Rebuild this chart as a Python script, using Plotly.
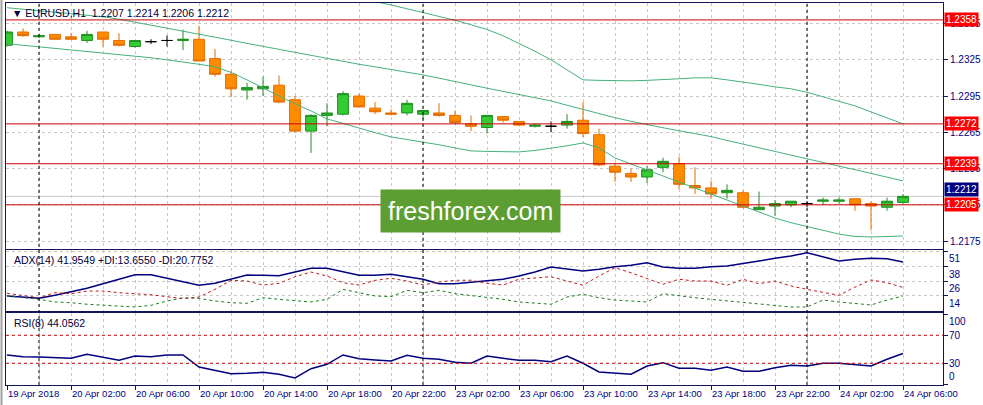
import plotly.graph_objects as go

# ---------------- data ----------------
times = ([f"2018.04.19 {h:02d}:00" for h in (22, 23)]
         + [f"2018.04.20 {h:02d}:00" for h in range(24)]
         + [f"2018.04.23 {h:02d}:00" for h in range(24)]
         + [f"2018.04.24 {h:02d}:00" for h in range(7)])

open_ = [1.2337, 1.2348, 1.2344, 1.2346, 1.2344, 1.2341, 1.2348, 1.2341, 1.2336, 1.2340,
         1.2341, 1.2341, 1.2342, 1.2326, 1.2313, 1.2300, 1.2301, 1.2304, 1.2292, 1.2266,
         1.2279, 1.2280, 1.2295, 1.2285, 1.2281, 1.2281, 1.2280, 1.2281, 1.2279, 1.2272,
         1.2269, 1.2278, 1.2274, 1.2270, 1.2270, 1.2271, 1.2275, 1.2263, 1.2237, 1.2231,
         1.2228, 1.2236, 1.2239, 1.2221, 1.2219, 1.2215, 1.2215, 1.2201, 1.2204, 1.2205,
         1.2206, 1.2208, 1.2208, 1.2210, 1.2206, 1.2203, 1.2207]
high = [1.2349, 1.2351, 1.2346, 1.2346, 1.2347, 1.2349, 1.2348, 1.2347, 1.2341, 1.2342,
        1.2345, 1.2350, 1.2353, 1.2334, 1.2316, 1.2306, 1.2311, 1.2312, 1.2295, 1.2280,
        1.2289, 1.2299, 1.2297, 1.2290, 1.2284, 1.2292, 1.2283, 1.2289, 1.2283, 1.2279,
        1.2279, 1.2278, 1.2274, 1.2272, 1.2274, 1.2280, 1.2290, 1.2268, 1.2240, 1.2235,
        1.2237, 1.2244, 1.2245, 1.2236, 1.2225, 1.2222, 1.2217, 1.2216, 1.2209, 1.2208,
        1.2208, 1.2211, 1.2211, 1.2210, 1.2208, 1.2211, 1.2214]
low = [1.2336, 1.2344, 1.2343, 1.2342, 1.2342, 1.2339, 1.2336, 1.2336, 1.2335, 1.2338,
       1.2336, 1.2333, 1.2324, 1.2311, 1.2294, 1.2292, 1.2295, 1.2289, 1.2265, 1.2248,
       1.2270, 1.2279, 1.2286, 1.2280, 1.2279, 1.2279, 1.2276, 1.2278, 1.2272, 1.2266,
       1.2264, 1.2273, 1.2270, 1.2269, 1.2265, 1.2268, 1.2261, 1.2237, 1.2224, 1.2224,
       1.2223, 1.2232, 1.2218, 1.2214, 1.2210, 1.2210, 1.2202, 1.2201, 1.2196, 1.2203,
       1.2203, 1.2205, 1.2206, 1.2200, 1.2184, 1.2200, 1.2206]
close = [1.2348, 1.2345, 1.2345, 1.2342, 1.2342, 1.2346, 1.2342, 1.2337, 1.2341, 1.2340,
         1.2341, 1.2342, 1.2324, 1.2313, 1.2301, 1.2302, 1.2303, 1.2290, 1.2266, 1.2279,
         1.2281, 1.2297, 1.2286, 1.2282, 1.2280, 1.2289, 1.2283, 1.2279, 1.2273, 1.2270,
         1.2279, 1.2275, 1.2271, 1.2271, 1.2270, 1.2274, 1.2264, 1.2238, 1.2232, 1.2228,
         1.2234, 1.2241, 1.2222, 1.2219, 1.2214, 1.2217, 1.2203, 1.2203, 1.2206, 1.2208,
         1.2206, 1.2209, 1.2209, 1.2205, 1.2204, 1.2208, 1.2212]

bb_upper = [1.23979, 1.23967, 1.23954, 1.23942, 1.23929, 1.23917, 1.23905, 1.23876, 1.23847, 1.23809,
            1.23772, 1.23747, 1.23739, 1.23739, 1.23747, 1.23755, 1.23764, 1.23764, 1.23760, 1.23747,
            1.23747, 1.23743, 1.23739, 1.23731, 1.23704, 1.23673, 1.23642, 1.23610, 1.23577, 1.23540,
            1.23501, 1.23449, 1.23385, 1.23321, 1.23250, 1.23170, 1.23084, 1.23080, 1.23076, 1.23076,
            1.23080, 1.23084, 1.23093, 1.23101, 1.23101, 1.23084, 1.23068, 1.23047, 1.23026, 1.23010,
            1.22981, 1.22943, 1.22910, 1.22869, 1.22819, 1.22769, 1.22720]
bb_middle = [1.23681, 1.23668, 1.23656, 1.23644, 1.23631, 1.23619, 1.23606, 1.23586, 1.23562, 1.23538,
             1.23512, 1.23487, 1.23462, 1.23436, 1.23412, 1.23386, 1.23361, 1.23336, 1.23310, 1.23286,
             1.23261, 1.23233, 1.23213, 1.23192, 1.23171, 1.23151, 1.23125, 1.23098, 1.23069, 1.23042,
             1.23015, 1.22989, 1.22963, 1.22938, 1.22910, 1.22874, 1.22838, 1.22803, 1.22771, 1.22741,
             1.22712, 1.22688, 1.22663, 1.22639, 1.22615, 1.22583, 1.22552, 1.22521, 1.22489, 1.22458,
             1.22430, 1.22400, 1.22370, 1.22341, 1.22309, 1.22278, 1.22248]
bb_lower = [1.23383, 1.23370, 1.23358, 1.23345, 1.23333, 1.23320, 1.23308, 1.23296, 1.23283, 1.23267,
            1.23250, 1.23233, 1.23213, 1.23192, 1.23146, 1.23084, 1.23018, 1.22952, 1.22885, 1.22827,
            1.22761, 1.22724, 1.22684, 1.22647, 1.22612, 1.22591, 1.22571, 1.22547, 1.22521, 1.22496,
            1.22492, 1.22488, 1.22488, 1.22500, 1.22517, 1.22538, 1.22562, 1.22521, 1.22438, 1.22388,
            1.22339, 1.22285, 1.22235, 1.22184, 1.22136, 1.22088, 1.22040, 1.21991, 1.21941, 1.21902,
            1.21871, 1.21837, 1.21808, 1.21788, 1.21784, 1.21788, 1.21792]

adx = [13.7, 12.8, 11.8, 14.2, 17.0, 20.1, 23.9, 27.6, 31.4, 31.4,
       28.4, 25.3, 22.6, 24.2, 27.6, 31.1, 30.9, 30.5, 33.6, 36.7,
       36.7, 33.9, 30.9, 30.9, 31.7, 29.7, 27.6, 23.9, 23.9, 25.1,
       26.1, 27.6, 30.3, 33.6, 37.8, 36.4, 34.5, 35.9, 38.0, 39.2,
       41.4, 37.8, 36.7, 36.7, 38.0, 38.6, 40.5, 42.8, 45.0, 46.9,
       49.7, 46.4, 42.8, 44.2, 45.0, 44.7, 41.9549]
plus_di = [13.7, 12.2, 10.9, 8.7, 8.1, 6.8, 5.9, 4.8, 4.5, 5.9,
           9.5, 12.2, 11.7, 9.5, 8.1, 7.6, 12.2, 10.9, 9.5, 8.7,
           10.9, 19.2, 16.4, 13.7, 13.1, 18.4, 16.4, 18.4, 15.6, 14.1,
           12.2, 10.9, 8.7, 7.6, 6.8, 12.8, 15.1, 12.2, 10.3, 9.5,
           8.7, 15.6, 13.7, 12.2, 10.9, 9.5, 8.1, 7.3, 5.9, 4.5,
           4.5, 10.3, 8.7, 7.6, 6.2, 10.3, 13.6550]
minus_di = [15.9, 14.2, 12.2, 16.4, 15.6, 17.8, 17.8, 16.4, 15.6, 14.7,
            13.1, 11.4, 12.8, 19.2, 26.7, 26.1, 22.8, 24.2, 29.7, 33.6,
            30.3, 24.7, 22.8, 26.7, 28.4, 26.1, 22.8, 25.3, 26.7, 26.8,
            24.2, 22.8, 27.6, 28.9, 29.7, 26.1, 22.6, 30.3, 37.2, 33.0,
            28.0, 23.4, 27.6, 26.1, 26.1, 22.6, 27.6, 23.9, 26.1, 22.0,
            19.2, 17.0, 14.2, 21.1, 27.0, 24.7, 20.7752]
rsi = [41.9, 39.4, 39.0, 37.6, 37.1, 42.9, 39.0, 34.3, 40.4, 39.4,
       41.9, 41.9, 24.7, 20.0, 15.1, 15.7, 17.1, 14.3, 9.0, 22.3,
       28.6, 41.9, 36.6, 34.7, 33.3, 41.4, 37.1, 35.7, 31.4, 30.0,
       40.4, 37.1, 34.3, 34.3, 32.3, 40.4, 30.0, 17.6, 15.7, 14.3,
       26.1, 30.9, 22.9, 22.9, 20.0, 24.7, 18.6, 18.6, 23.7, 27.1,
       26.1, 30.0, 30.0, 27.6, 26.1, 35.7, 44.0562]

levels = [1.2358, 1.2272, 1.2239, 1.2205]
price_ticks = [1.2355, 1.2325, 1.2295, 1.2265, 1.2235, 1.2205, 1.2175]
adx_ticks = [51, 38, 26, 14]
rsi_levels = [70, 30]
xtick_times = ["2018.04.19 22:00", "2018.04.20 02:00", "2018.04.20 06:00", "2018.04.20 10:00",
               "2018.04.20 14:00", "2018.04.20 18:00", "2018.04.20 22:00", "2018.04.23 02:00",
               "2018.04.23 06:00", "2018.04.23 10:00", "2018.04.23 14:00", "2018.04.23 18:00",
               "2018.04.23 22:00", "2018.04.24 02:00", "2018.04.24 06:00"]
xtick_text = ["19 Apr 2018", "20 Apr 02:00", "20 Apr 06:00", "20 Apr 10:00", "20 Apr 14:00",
              "20 Apr 18:00", "20 Apr 22:00", "23 Apr 02:00", "23 Apr 06:00", "23 Apr 10:00",
              "23 Apr 14:00", "23 Apr 18:00", "23 Apr 22:00", "24 Apr 02:00", "24 Apr 06:00"]
watermark = "freshforex.com"

# ---------------- styling ----------------
NAVY = "#000080"
FRAME = "#14145a"
GRID = "#c8c8c8"
RED = "#cc0000"
BB = "#45b27c"
FONT = "Liberation Sans"

idx = list(range(len(times)))
xtick_vals = [times.index(t) for t in xtick_times]
minor_vals = [i for i in idx if i % 2 == 0 and i not in xtick_vals]
day_starts = [i for i, t in enumerate(times) if t.endswith("00:00")]

bull = [i for i in idx if close[i] > open_[i]]
bear = [i for i in idx if close[i] < open_[i]]
doji = [i for i in idx if close[i] == open_[i]]


def sub(arr, ids):
    return [arr[i] for i in ids]


fig = go.Figure()

# Bollinger bands
for arr in (bb_upper, bb_middle, bb_lower):
    fig.add_trace(go.Scatter(x=idx, y=arr, mode="lines", line=dict(color=BB, width=1),
                             hoverinfo="skip", xaxis="x", yaxis="y"))

for ids, lc, fc in ((bull, "#1f8f1f", "#33cc33"), (bear, "#e46c00", "#ff8c00"), (doji, "#000000", "#000000")):
    fig.add_trace(go.Candlestick(
        x=ids, open=sub(open_, ids), high=sub(high, ids), low=sub(low, ids), close=sub(close, ids),
        increasing=dict(line=dict(color=lc, width=1), fillcolor=fc),
        decreasing=dict(line=dict(color=lc, width=1), fillcolor=fc),
        whiskerwidth=0, hoverinfo="skip", xaxis="x", yaxis="y"))

# ADX
fig.add_trace(go.Scatter(x=idx, y=adx, mode="lines", line=dict(color=NAVY, width=1.5),
                         xaxis="x2", yaxis="y2", hoverinfo="skip"))
fig.add_trace(go.Scatter(x=idx, y=plus_di, mode="lines", line=dict(color="#1e7d1e", width=1, dash="3px,3px"),
                         xaxis="x2", yaxis="y2", hoverinfo="skip"))
fig.add_trace(go.Scatter(x=idx, y=minus_di, mode="lines", line=dict(color="#c01818", width=1, dash="3px,3px"),
                         xaxis="x2", yaxis="y2", hoverinfo="skip"))
# RSI
fig.add_trace(go.Scatter(x=idx, y=rsi, mode="lines", line=dict(color=NAVY, width=1.5),
                         xaxis="x3", yaxis="y3", hoverinfo="skip"))

shapes = []
for lv in levels:
    shapes.append(dict(type="line", xref="paper", x0=0, x1=1, yref="y", y0=lv, y1=lv,
                       line=dict(color=RED, width=1)))
shapes.append(dict(type="line", xref="paper", x0=0, x1=1, yref="y", y0=close[-1], y1=close[-1],
                   line=dict(color="#c8c8c8", width=1), layer="below"))
for lv in rsi_levels:
    shapes.append(dict(type="line", xref="paper", x0=0, x1=1, yref="y3", y0=lv, y1=lv,
                       line=dict(color=RED, width=1, dash="3px,3px")))
for d in day_starts:
    shapes.append(dict(type="line", xref="x", x0=d, x1=d, yref="paper", y0=0, y1=1,
                       line=dict(color="#000000", width=1, dash="3px,3px")))
# window border on the far left
shapes.append(dict(type="line", xref="paper", x0=-0.0048, x1=-0.0048, yref="paper", y0=-0.06, y1=1.01,
                   line=dict(color="#a0a0a0", width=2)))

ann = []
for lv in levels:
    ann.append(dict(xref="paper", x=1, xanchor="left", xshift=1, yref="y", y=lv, yanchor="middle",
                    text=f"{lv:.4f}", showarrow=False, bgcolor="#ff0000",
                    font=dict(color="white", size=10, family=FONT), borderpad=1))
ann.append(dict(xref="paper", x=1, xanchor="left", xshift=1, yref="y", y=close[-1], yanchor="bottom",
                yshift=-1, text=f"{close[-1]:.4f}", showarrow=False, bgcolor="#000080",
                font=dict(color="white", size=10, family=FONT), borderpad=1))
for t in adx_ticks:
    ann.append(dict(xref="paper", x=1, xanchor="left", xshift=4, yref="y2", y=t, yanchor="top",
                    text=str(t), showarrow=False, font=dict(color=NAVY, size=10, family=FONT)))
for t, anc in ((100, "top"), (70, "middle"), (30, "middle"), (0, "bottom")):
    ann.append(dict(xref="paper", x=1, xanchor="left", xshift=4, yref="y3", y=t, yanchor=anc,
                    text=str(t), showarrow=False, font=dict(color=NAVY, size=10, family=FONT)))
ann.append(dict(xref="paper", x=0.004, xanchor="left", yref="paper", y=1, yanchor="top", yshift=-2,
                text=f"\u25bc EURUSD,H1  {open_[-1]:.4f} {high[-1]:.4f} {low[-1]:.4f} {close[-1]:.4f}",
                showarrow=False, font=dict(color="#000040", size=10.5, family=FONT)))
ann.append(dict(xref="paper", x=0.006, xanchor="left", yref="y2 domain", y=1, yanchor="top", yshift=-2,
                text=f"ADX(14) {adx[-1]:.4f} +DI:{plus_di[-1]:.4f} -DI:{minus_di[-1]:.4f}",
                showarrow=False, font=dict(color="#000040", size=10.5, family=FONT)))
ann.append(dict(xref="paper", x=0.006, xanchor="left", yref="y3 domain", y=1, yanchor="top", yshift=-2,
                text=f"RSI(8) {rsi[-1]:.4f}",
                showarrow=False, font=dict(color="#000040", size=10.5, family=FONT)))
# site watermark
ann.append(dict(xref="paper", x=0.4952, xanchor="center", yref="paper", y=0.4555, yanchor="middle",
                text=watermark, showarrow=False, bgcolor="#5c9e31", borderpad=7,
                font=dict(color="white", size=25, family=FONT)))

xcommon = dict(range=[-0.0625, 58.5], showline=True, mirror=True, linecolor=FRAME, linewidth=1,
               tickvals=xtick_vals, ticktext=xtick_text, showgrid=True, gridcolor=GRID,
               griddash="3px,3px", gridwidth=1, zeroline=False, tickangle=0,
               minor=dict(tickvals=minor_vals, showgrid=True, gridcolor=GRID, griddash="3px,3px", ticks=""))
ycommon = dict(side="right", showline=True, mirror=True, linecolor=FRAME, linewidth=1,
               ticks="outside", ticklen=4, tickcolor=FRAME, zeroline=False,
               tickfont=dict(color=NAVY, size=10, family=FONT))

fig.update_layout(
    width=983, height=405,
    margin=dict(l=6, r=40, t=3, b=20, pad=0, autoexpand=False),
    paper_bgcolor="white", plot_bgcolor="white",
    showlegend=False, boxgap=0.18, boxgroupgap=0.18,
    font=dict(family=FONT, size=10, color=NAVY),
    xaxis=dict(xcommon, anchor="y", showticklabels=False, ticks="", rangeslider=dict(visible=False)),
    xaxis2=dict(xcommon, anchor="y2", matches="x", showticklabels=False, ticks=""),
    xaxis3=dict(xcommon, anchor="y3", matches="x", ticks="outside", ticklen=4, tickcolor=FRAME,
                ticklabelposition="outside right",
                tickfont=dict(color=NAVY, size=9.5, family=FONT)),
    yaxis=dict(ycommon, domain=[0.3568, 1.0], range=[1.21687, 1.23720], tickvals=price_ticks,
               tickformat=".4f", showgrid=True, gridcolor=GRID, griddash="3px,3px"),
    yaxis2=dict(ycommon, domain=[0.1937, 0.3534], range=[1.18, 51.93], tickvals=adx_ticks,
                showticklabels=False, showgrid=True, gridcolor=GRID, griddash="3px,3px"),
    yaxis3=dict(ycommon, domain=[0.0, 0.1877], range=[-1.0, 101.4], tickvals=[0, 30, 70, 100],
                showticklabels=False, showgrid=False),
    shapes=shapes, annotations=ann,
)

fig.write_html("out.html", config={"displayModeBar": False},
               post_script="document.body.style.margin='0px';document.body.style.overflow='hidden';")
